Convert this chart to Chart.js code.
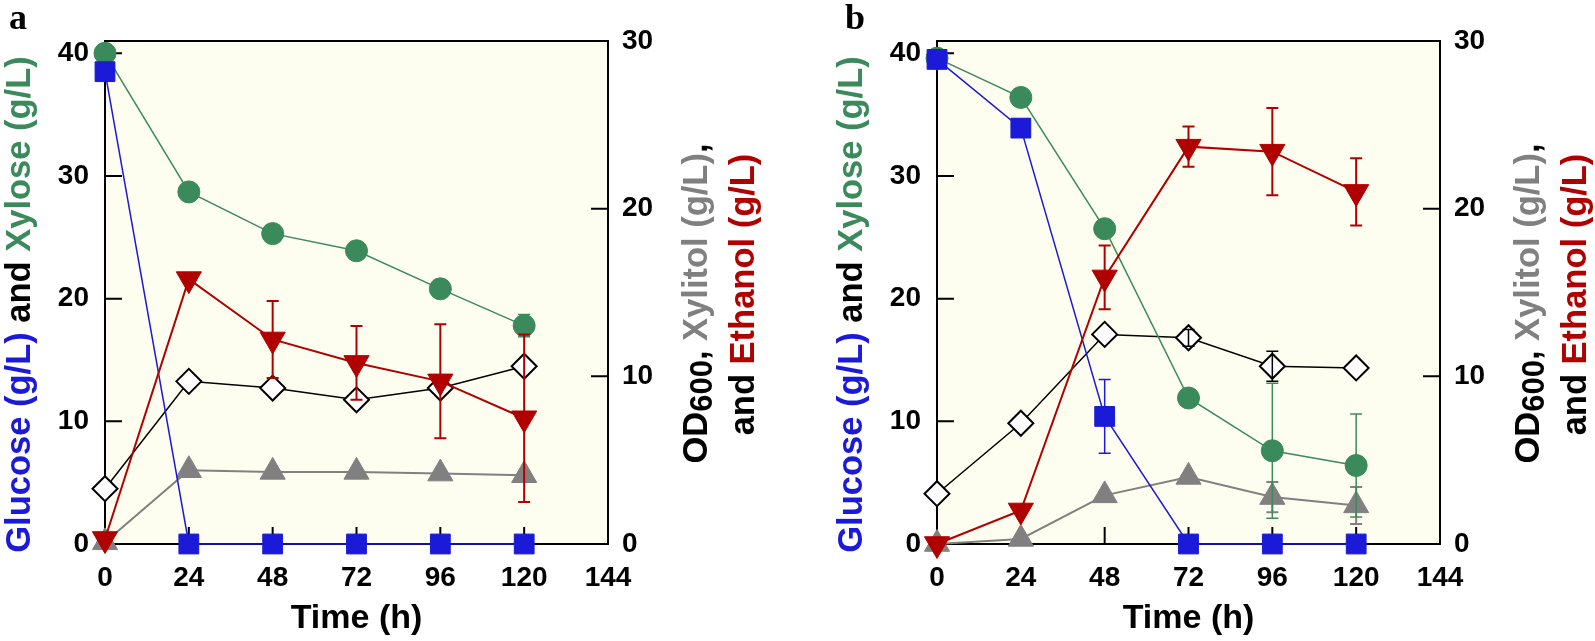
<!DOCTYPE html>
<html>
<head>
<meta charset="utf-8">
<script src="https://cdn.jsdelivr.net/npm/chart.js@4.4.1/dist/chart.umd.min.js"></script>
<style>
  html, body { margin: 0; padding: 0; background: #fff; }
  body { width: 1595px; height: 641px; position: relative; overflow: hidden; }
  .panel { position: absolute; top: 0; height: 641px; }
  #wrapA { left: 0; width: 800px; }
  #wrapB { left: 832px; width: 763px; }
  .tag { position: absolute; top: -4px; font: bold 36px "Liberation Serif", "Times New Roman", serif; color: #000; }
</style>
</head>
<body>
<div class="panel" id="wrapA"><canvas id="chartA" width="800" height="641"></canvas></div>
<div class="panel" id="wrapB"><canvas id="chartB" width="763" height="641"></canvas></div>
<div class="tag" style="left:9px">a</div>
<div class="tag" style="left:845px">b</div>
<script>
// sampling times and axis ticks
const hours = [0, 24, 48, 72, 96, 120];
const timeTicks = [0, 24, 48, 72, 96, 120, 144];
const sugarTicks = [0, 10, 20, 30, 40];
const productTicks = [0, 10, 20, 30];

// panel a
const glucoseA = [38.5, 0, 0, 0, 0, 0];
const glucoseErrA = [0, 0, 0, 0, 0, 0];
const xyloseA = [40.0, 28.7, 25.3, 23.9, 20.8, 17.8];
const xyloseErrA = [0, 0, 0, 0, 0, 0.9];
const ethanolA = [0.3, 15.8, 12.2, 10.8, 9.7, 7.5];
const ethanolErrA = [0, 0, 2.3, 2.2, 3.4, 5.0];
const odA = [3.3, 9.7, 9.3, 8.6, 9.3, 10.6];
const odErrA = [0, 0, 0, 0, 0, 0];
const xylitolA = [0.1, 4.4, 4.3, 4.3, 4.2, 4.1];
const xylitolErrA = [0, 0, 0, 0, 0, 0];

// panel b
const glucoseB = [39.5, 33.9, 10.4, 0, 0, 0];
const glucoseErrB = [0, 0, 3.0, 0, 0, 0];
const xyloseB = [39.6, 36.4, 25.7, 11.9, 7.6, 6.4];
const xyloseErrB = [0, 0, 0, 0.5, 5.5, 4.2];
const ethanolB = [0, 2.0, 15.9, 23.7, 23.4, 21.0];
const ethanolErrB = [0, 0, 1.9, 1.2, 2.6, 2.0];
const odB = [3.0, 7.2, 12.5, 12.3, 10.6, 10.5];
const odErrB = [0, 0, 0, 0.5, 0.9, 0];
const xylitolB = [0, 0.3, 2.9, 4.0, 2.8, 2.3];
const xylitolErrB = [0, 0, 0, 0, 0.9, 1.1];

const BLUE = '#1a1ad8';
const GREEN = '#3b8a5b';
const RED = '#b00000';
const GRAY = '#808080';
const BLACK = '#000000';

const FONT = '"Liberation Sans", Arial, sans-serif';
Chart.defaults.font.family = FONT;

const pts = (vals) => hours.map((h, i) => ({ x: h, y: vals[i] }));

function series(label, vals, err, axis, color, style, radius, extra) {
  return Object.assign({
    label: label,
    data: pts(vals),
    err: err,
    yAxisID: axis,
    borderColor: color,
    backgroundColor: color,
    borderWidth: 1.5,
    pointStyle: style,
    pointRadius: radius,
    pointBackgroundColor: color,
    pointBorderColor: color,
    pointBorderWidth: 1,
    tension: 0,
    clip: false
  }, extra || {});
}

// dataset 0 ends up on top
function makeSets(g, gE, x, xE, e, eE, o, oE, xl, xlE) {
  return [
    series('Ethanol', e, eE, 'y2', RED, 'triangle', 14.5, { borderWidth: 2, pointRotation: 180 }),
    series('Glucose', g, gE, 'y', BLUE, 'rect', 14),
    series('Xylose', x, xE, 'y', GREEN, 'circle', 11),
    series('Xylitol', xl, xlE, 'y2', GRAY, 'triangle', 14.5, { borderWidth: 2 }),
    series('OD600', o, oE, 'y2', BLACK, 'rectRot', 12.5, { pointBackgroundColor: '#ffffff', pointBorderWidth: 2 })
  ];
}

const bgAndFrame = {
  id: 'bgAndFrame',
  beforeDraw(chart) {
    const { ctx, chartArea: a } = chart;
    ctx.save();
    ctx.fillStyle = '#fefef0';
    ctx.fillRect(a.left, a.top, a.right - a.left, a.bottom - a.top);
    ctx.restore();
  },
  beforeDatasetsDraw(chart) {
    const { ctx, chartArea: a, scales } = chart;
    const len = 17;
    ctx.save();
    ctx.strokeStyle = '#000';
    ctx.lineWidth = 2;
    ctx.strokeRect(a.left, a.top, a.right - a.left, a.bottom - a.top);
    ctx.beginPath();
    scales.x.ticks.forEach((t) => {
      const px = scales.x.getPixelForValue(t.value);
      if (px > a.left + 1 && px < a.right - 1) { ctx.moveTo(px, a.bottom); ctx.lineTo(px, a.bottom - len); }
    });
    scales.y.ticks.forEach((t) => {
      const py = scales.y.getPixelForValue(t.value);
      if (py > a.top + 1 && py < a.bottom - 1) { ctx.moveTo(a.left, py); ctx.lineTo(a.left + len, py); }
    });
    scales.y2.ticks.forEach((t) => {
      const py = scales.y2.getPixelForValue(t.value);
      if (py > a.top + 1 && py < a.bottom - 1) { ctx.moveTo(a.right, py); ctx.lineTo(a.right - len, py); }
    });
    ctx.stroke();
    ctx.restore();
  }
};

const errorBars = {
  id: 'errorBars',
  afterDatasetDraw(chart, args) {
    const ds = chart.data.datasets[args.index];
    if (!ds.err) return;
    const yScale = chart.scales[ds.yAxisID];
    const ctx = chart.ctx;
    ctx.save();
    ctx.strokeStyle = ds.borderColor;
    ctx.lineWidth = ds.borderWidth;
    args.meta.data.forEach((pt, i) => {
      const e = ds.err[i];
      if (!e) return;
      const v = ds.data[i].y;
      const top = yScale.getPixelForValue(v + e);
      const bot = yScale.getPixelForValue(v - e);
      ctx.beginPath();
      ctx.moveTo(pt.x, top); ctx.lineTo(pt.x, bot);
      ctx.moveTo(pt.x - 6, top); ctx.lineTo(pt.x + 6, top);
      ctx.moveTo(pt.x - 6, bot); ctx.lineTo(pt.x + 6, bot);
      ctx.stroke();
    });
    ctx.restore();
  }
};

const TITLE_FONT = 'bold 34.5px ' + FONT;
const SUB_FONT = 'bold 31px ' + FONT;

function drawRotated(ctx, cx, cy, segs) {
  ctx.save();
  ctx.translate(cx, cy);
  ctx.rotate(-Math.PI / 2);
  ctx.textBaseline = 'middle';
  ctx.textAlign = 'left';
  let total = 0;
  segs.forEach((s) => {
    ctx.font = s.sub ? SUB_FONT : TITLE_FONT;
    s.w = ctx.measureText(s.text).width;
    total += s.w;
  });
  let x = -total / 2;
  segs.forEach((s) => {
    ctx.font = s.sub ? SUB_FONT : TITLE_FONT;
    ctx.fillStyle = s.color;
    ctx.fillText(s.text, x, s.sub ? 6 : 0);
    x += s.w;
  });
  ctx.restore();
}

const axisTitles = {
  id: 'axisTitles',
  afterDraw(chart) {
    const { ctx, chartArea: a } = chart;
    const mid = (a.top + a.bottom) / 2;
    drawRotated(ctx, a.left - 85, mid + 12, [
      { text: 'Glucose (g/L)', color: BLUE },
      { text: ' and ', color: BLACK },
      { text: 'Xylose (g/L)', color: GREEN }
    ]);
    drawRotated(ctx, a.right + 89, mid + 11, [
      { text: 'OD', color: BLACK },
      { text: '600', color: BLACK, sub: true },
      { text: ', ', color: BLACK },
      { text: 'Xylitol (g/L)', color: GRAY },
      { text: ',', color: BLACK }
    ]);
    drawRotated(ctx, a.right + 136, mid + 2, [
      { text: 'and ', color: BLACK },
      { text: 'Ethanol (g/L)', color: RED }
    ]);
  }
};

const tickFont = { size: 28, weight: 'bold' };
const asTicks = (arr) => (scale) => { scale.ticks = arr.map((v) => ({ value: v })); };

function makeChart(id, sets, width) {
  return new Chart(document.getElementById(id), {
    type: 'line',
    data: { datasets: sets },
    options: {
      responsive: false,
      animation: false,
      events: [],
      layout: { padding: { top: 41, left: 0, right: 0, bottom: 0 } },
      plugins: { legend: { display: false }, tooltip: { enabled: false } },
      scales: {
        x: {
          type: 'linear', min: 0, max: 144,
          afterBuildTicks: asTicks(timeTicks),
          afterFit: (s) => { s.height = 641 - 41 - 503; },
          grid: { display: false, drawTicks: false },
          border: { display: false },
          ticks: { font: tickFont, color: '#000', padding: 17, maxRotation: 0 },
          title: { display: true, text: 'Time (h)', color: '#000', font: { size: 34, weight: 'bold' }, padding: { top: 0, bottom: 2 } }
        },
        y: {
          position: 'left', min: 0, max: 41,
          afterBuildTicks: asTicks(sugarTicks),
          afterFit: (s) => { s.width = 105; },
          grid: { display: false, drawTicks: false },
          border: { display: false },
          ticks: { font: tickFont, color: '#000', padding: 16 }
        },
        y2: {
          position: 'right', min: 0, max: 30,
          afterBuildTicks: asTicks(productTicks),
          afterFit: (s) => { s.width = width - 608; },
          grid: { display: false, drawTicks: false },
          border: { display: false },
          ticks: { font: tickFont, color: '#000', padding: 14 }
        }
      }
    },
    plugins: [bgAndFrame, errorBars, axisTitles]
  });
}

makeChart('chartA', makeSets(glucoseA, glucoseErrA, xyloseA, xyloseErrA, ethanolA, ethanolErrA, odA, odErrA, xylitolA, xylitolErrA), 800);
makeChart('chartB', makeSets(glucoseB, glucoseErrB, xyloseB, xyloseErrB, ethanolB, ethanolErrB, odB, odErrB, xylitolB, xylitolErrB), 763);
</script>
</body>
</html>
